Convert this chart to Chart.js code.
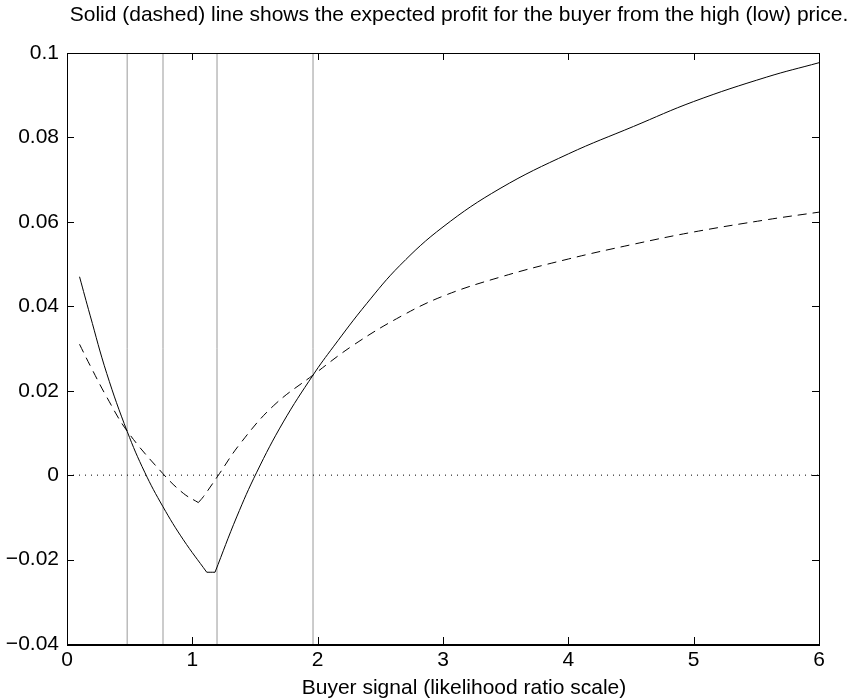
<!DOCTYPE html>
<html>
<head>
<meta charset="utf-8">
<script src="https://cdn.jsdelivr.net/npm/chart.js@4.4.1/dist/chart.umd.min.js"></script>
<style>
html, body { margin: 0; padding: 0; background: #fff; }
</style>
</head>
<body>
<canvas id="myChart" width="853" height="698"></canvas>
<script>
// expected profit for the buyer, high price (solid)
var highX      = [0.10, 0.184, 0.317, 0.481, 0.62, 0.766, 0.928, 1.115, 1.181, 1.354, 1.514, 1.726, 1.963, 2.125, 2.39, 2.657, 3.0, 3.455, 4.0, 4.52, 5.0, 5.583, 6.0];
var highProfit = [0.047, 0.0379, 0.0241, 0.0103, 0.0007, -0.0075, -0.0153, -0.0230, -0.0230, -0.0099, 0.0007, 0.0126, 0.0237, 0.0304, 0.0406, 0.0497, 0.0588, 0.0679, 0.0761, 0.0826, 0.0885, 0.0943, 0.0977];
var highKinks  = [1.115, 1.181];

// expected profit for the buyer, low price (dashed)
var lowX      = [0.10, 0.184, 0.317, 0.481, 0.764, 0.928, 1.048, 1.088, 1.199, 1.38, 1.646, 1.963, 2.285, 2.657, 3.0, 3.455, 4.0, 4.52, 5.0, 5.583, 6.0];
var lowProfit = [0.031, 0.0260, 0.0185, 0.0104, 0.0004, -0.0043, -0.0065, -0.0051, -0.0004, 0.0074, 0.0164, 0.0237, 0.0308, 0.0375, 0.0424, 0.0469, 0.0512, 0.0547, 0.0576, 0.0605, 0.0623];
var lowKinks  = [1.048];

// grey vertical marker lines
var cutoffs = [0.48, 0.766, 1.197, 1.963];

var xTicks = [0, 1, 2, 3, 4, 5, 6];
var xTickLabels = ['0', '1', '2', '3', '4', '5', '6'];
var yTicks = [-0.04, -0.02, 0, 0.02, 0.04, 0.06, 0.08, 0.1];
var yTickLabels = ['\u22120.04', '\u22120.02', '0', '0.02', '0.04', '0.06', '0.08', '0.1'];

var titleText = 'Solid (dashed) line shows the expected profit for the buyer from the high (low) price.';
var xLabelText = 'Buyer signal (likelihood ratio scale)';

var xMin = 0, xMax = 6, yMin = -0.04, yMax = 0.1;

var fontFamily = "'Liberation Sans', Arial, Helvetica, sans-serif";
Chart.defaults.font.family = fontFamily;
Chart.defaults.color = '#000';

// cut a curve into smooth pieces at its corners
function pieces(xs, ys, kinks) {
	var out = [], cur = [];
	xs.forEach(function(x, i) {
		cur.push({x: x, y: ys[i]});
		if (kinks.indexOf(x) >= 0) {
			out.push(cur);
			cur = [{x: x, y: ys[i]}];
		}
	});
	out.push(cur);
	return out;
}

var datasets = [];

pieces(highX, highProfit, highKinks).forEach(function(p) {
	datasets.push({
		label: 'high price',
		data: p,
		borderColor: '#000',
		borderWidth: 1,
		pointRadius: 0,
		tension: 0.4
	});
});

pieces(lowX, lowProfit, lowKinks).forEach(function(p) {
	datasets.push({
		label: 'low price',
		data: p,
		borderColor: '#000',
		borderWidth: 1,
		borderDash: [9, 6],
		pointRadius: 0,
		tension: 0.4
	});
});

datasets.push({
	label: 'zero',
	data: [{x: xMin, y: 0}, {x: xMax, y: 0}],
	borderColor: '#000',
	borderWidth: 1,
	borderDash: [1, 5],
	pointRadius: 0
});

cutoffs.forEach(function(c) {
	datasets.push({
		label: 'cutoff ' + c,
		data: [{x: c, y: yMin}, {x: c, y: yMax}],
		borderColor: '#999999',
		borderWidth: 1,
		pointRadius: 0
	});
});

// box round the plot with inward ticks
var frameTicks = {
	id: 'frameTicks',
	afterDatasetsDraw: function(chart) {
		var ctx = chart.ctx, a = chart.chartArea;
		var xs = chart.scales.x, ys = chart.scales.y;
		var len = 7;
		ctx.save();
		ctx.strokeStyle = '#000';
		ctx.lineWidth = 1;
		ctx.beginPath();
		xTicks.forEach(function(v) {
			var px = Math.round(xs.getPixelForValue(v)) + 0.5;
			ctx.moveTo(px, a.bottom); ctx.lineTo(px, a.bottom - len);
			ctx.moveTo(px, a.top); ctx.lineTo(px, a.top + len);
		});
		yTicks.forEach(function(v) {
			var py = Math.round(ys.getPixelForValue(v)) + 0.5;
			ctx.moveTo(a.left, py); ctx.lineTo(a.left + len, py);
			ctx.moveTo(a.right, py); ctx.lineTo(a.right - len, py);
		});
		ctx.stroke();
		ctx.beginPath();
		ctx.rect(Math.round(a.left) + 0.5, Math.round(a.top) + 0.5, Math.round(a.right - a.left), Math.round(a.bottom - a.top));
		ctx.stroke();
		ctx.lineWidth = 2;
		ctx.beginPath();
		ctx.moveTo(a.left, Math.round(a.bottom) + 1);
		ctx.lineTo(a.right + 1, Math.round(a.bottom) + 1);
		ctx.stroke();
		ctx.restore();
	}
};

// title and x label, sitting a little right of the plot centre as in the source
var axisText = {
	id: 'axisText',
	afterDraw: function(chart) {
		var ctx = chart.ctx, a = chart.chartArea;
		var mid = (a.left + a.right) / 2;
		ctx.save();
		ctx.fillStyle = '#000';
		ctx.font = '21px ' + fontFamily;
		ctx.textAlign = 'center';
		ctx.textBaseline = 'middle';
		ctx.fillText(titleText, mid + 16, 15);
		ctx.fillText(xLabelText, mid + 21, 688);
		ctx.restore();
	}
};

var ctx = document.getElementById('myChart').getContext('2d');

var myChart = new Chart(ctx, {
	type: 'line',
	data: { datasets: datasets },
	options: {
		responsive: false,
		animation: false,
		devicePixelRatio: 1,
		layout: { padding: { top: 53, right: 34, bottom: 0, left: 0 } },
		plugins: {
			legend: { display: false },
			tooltip: { enabled: false },
			title: { display: false }
		},
		scales: {
			x: {
				type: 'linear',
				min: xMin,
				max: xMax,
				grid: { display: false, drawTicks: false },
				border: { display: false },
				afterBuildTicks: function(scale) {
					scale.ticks = xTicks.map(function(v) { return {value: v}; });
				},
				afterFit: function(scale) { scale.height = 54; },
				ticks: {
					autoSkip: false,
					maxRotation: 0,
					padding: 4,
					font: { size: 21 },
					callback: function(value, index) { return xTickLabels[index]; }
				}
			},
			y: {
				type: 'linear',
				min: yMin,
				max: yMax,
				grid: { display: false, drawTicks: false },
				border: { display: false },
				afterBuildTicks: function(scale) {
					scale.ticks = yTicks.map(function(v) { return {value: v}; });
				},
				afterFit: function(scale) { scale.width = 67; },
				ticks: {
					autoSkip: false,
					padding: 8,
					font: { size: 21 },
					callback: function(value, index) { return yTickLabels[index]; }
				}
			}
		}
	},
	plugins: [frameTicks, axisText]
});
</script>
</body>
</html>
